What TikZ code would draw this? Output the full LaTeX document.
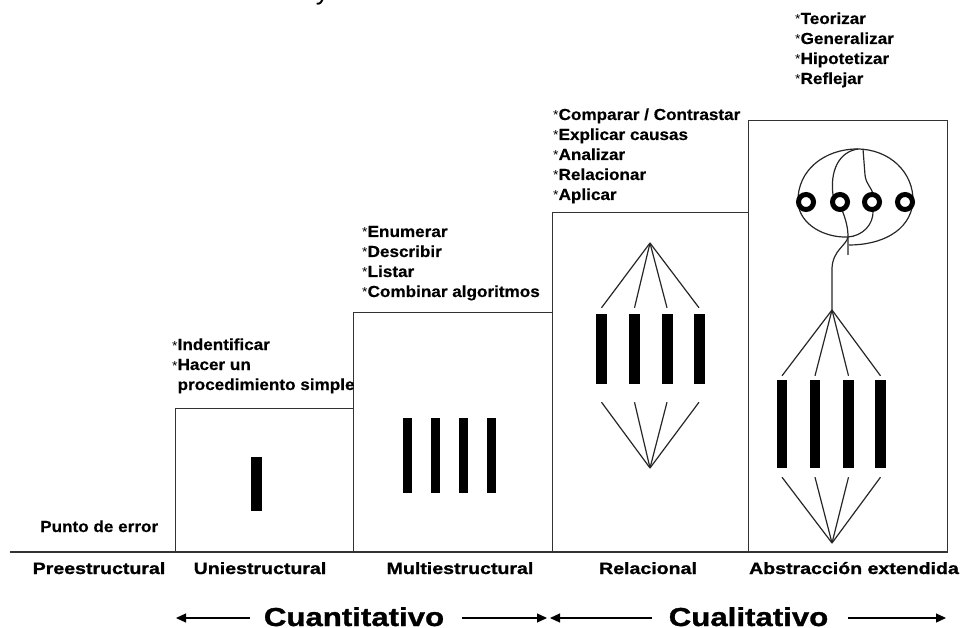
\documentclass[tikz,border=0pt]{standalone}
\usepackage{fontspec}
\setmainfont{Liberation Sans}
\newfontfamily\lab{Liberation Sans}[FakeStretch=1.07, BoldFeatures={FakeBold=0.4}]
\newfontfamily\heavy{Liberation Sans}[FakeStretch=1.2, BoldFeatures={FakeBold=1.2}]
\usetikzlibrary{arrows.meta}
\newcommand\vstar{{\mdseries\fontsize{13}{13}\selectfont*}}
\begin{document}
\begin{tikzpicture}[x=1pt,y=-1pt,
  frame/.style={draw=black!80, line width=1.3pt, inner sep=0, anchor=south west},
  bar/.style={fill=black, draw=none, inner sep=0},
  link/.style={draw=black!85, line width=1.2pt},
  ring/.style={circle, draw=black, fill=white, line width=5pt, minimum size=15pt, inner sep=0},
  verb/.style={anchor=base west, inner sep=0, align=left,
    font=\lab\bfseries\fontsize{16}{20}\selectfont},
  level/.style={anchor=base, inner sep=0, font=\heavy\bfseries\fontsize{16.3}{20}\selectfont},
  kind/.style={anchor=base, inner sep=0, font=\heavy\bfseries\fontsize{26}{30}\selectfont},
  arr/.style={draw=black, line width=1.2pt, -{Triangle[length=10pt,width=9pt]}}
]
\useasboundingbox (0,0) rectangle (961,628);

% heading, almost entirely above the page edge
\begin{scope}
  \clip (0,0) rectangle (961,628);
  \node[anchor=base west, inner sep=0, font=\fontsize{27}{30}\selectfont] (title) at (56,-0.5)
    {Taxonomía de SOLO y verbos asociados};
\end{scope}

% the four level boxes
\node[frame, minimum width=178pt, minimum height=143pt] (uni) at (175,552) {};
\node[frame, minimum width=199pt, minimum height=239pt] (multi) at (353,552) {};
\node[frame, minimum width=196pt, minimum height=339pt] (rel) at (552,552) {};
\node[frame, minimum width=199pt, minimum height=431pt] (abs) at (748,552) {};
\coordinate (ground) at (10,552);
\draw[frame] (ground) -- (abs.south east);

% verbs for each level (anchored at the baseline of the last line)
\node[verb] (vuni) at (172,390) {\vstar Indentificar\\\vstar Hacer un\\\phantom{\vstar}procedimiento simple};
\node[verb] (vmulti) at (362,297) {\vstar Enumerar\\\vstar Describir\\\vstar Listar\\\vstar Combinar algoritmos};
\node[verb] (vrel) at (553,200) {\vstar Comparar / Contrastar\\\vstar Explicar causas\\\vstar Analizar\\\vstar Relacionar\\\vstar Aplicar};
\node[verb] (vabs) at (795,84) {\vstar Teorizar\\\vstar Generalizar\\\vstar Hipotetizar\\\vstar Reflejar};
\node[verb] (err) at (40,532) {Punto de error};

% level names
\node[level] (lpre) at (99,574) {Preestructural};
\node[level] (luni) at (260,574) {Uniestructural};
\node[level] (lmulti) at (460,574) {Multiestructural};
\node[level] (lrel) at (648,574) {Relacional};
\node[level] (labs) at (854,574) {Abstracción extendida};

% uniestructural: one element
\node[bar, minimum width=11pt, minimum height=54pt] (u1) at (256.5,484) {};

% multiestructural: four loose elements
\foreach \i/\x in {1/407,2/435.5,3/463.5,4/491}
  \node[bar, minimum width=9pt, minimum height=75pt] (m\i) at (\x,455.5) {};

% relacional: four elements tied together
\foreach \i/\x in {1/601.5,2/634.5,3/667,4/699}
  \node[bar, minimum width=11pt, minimum height=70pt] (r\i) at (\x,349) {};
\coordinate (rtop) at (650,243);
\coordinate (rbot) at (650,468);
\foreach \i in {1,...,4}{
  \draw[link] (rtop) -- ([yshift=6pt]r\i.north);
  \draw[link] (rbot) -- ([yshift=-18pt]r\i.south);
}

% abstraccion extendida: tied elements linked to a higher structure
\foreach \i/\x in {1/782,2/815,3/848.5,4/880.5}
  \node[bar, minimum width=10.5pt, minimum height=88pt] (a\i) at (\x,424) {};
\coordinate (atop) at (832,310);
\coordinate (abot) at (832,543);
\foreach \i in {1,...,4}{
  \draw[link] (atop) -- ([yshift=4pt]a\i.north);
  \draw[link] (abot) -- ([yshift=-9pt]a\i.south);
}
\draw[link] (atop) -- (832,268) .. controls (833,250) and (846,246) .. (848,237);
\draw[link] (798,202) .. controls (797,170) and (825,149) .. (857,149)
  .. controls (889,149) and (914,172) .. (913,202);
\draw[link] (798,203) .. controls (800,225) and (825,238) .. (848,237)
  .. controls (862,236) and (874,225) .. (873,210);
\draw[link] (842,210) .. controls (846,220) and (848,228) .. (848,237) -- (848,255);
\draw[link] (913,202) .. controls (910,232) and (880,245) .. (849,245);
\draw[link] (858,149) .. controls (838,152) and (830,172) .. (833,195);
\draw[link] (863,149) -- (865,175) .. controls (866,185) and (872,187) .. (873,195);
\foreach \i/\x in {1/806,2/840,3/872,4/905}
  \node[ring] (c\i) at (\x,202) {};

% quantitative / qualitative span
\node[kind] (quant) at (354,626) {Cuantitativo};
\node[kind] (qual) at (748.5,626) {Cualitativo};
\coordinate (q1) at (250,618); \coordinate (q1t) at (176,618);
\coordinate (q2) at (462,618); \coordinate (q2t) at (547,618);
\coordinate (q3) at (652,618); \coordinate (q3t) at (550,618);
\coordinate (q4) at (848,618); \coordinate (q4t) at (946,618);
\draw[arr] (q1) -- (q1t);
\draw[arr] (q2) -- (q2t);
\draw[arr] (q3) -- (q3t);
\draw[arr] (q4) -- (q4t);
\end{tikzpicture}
\end{document}
